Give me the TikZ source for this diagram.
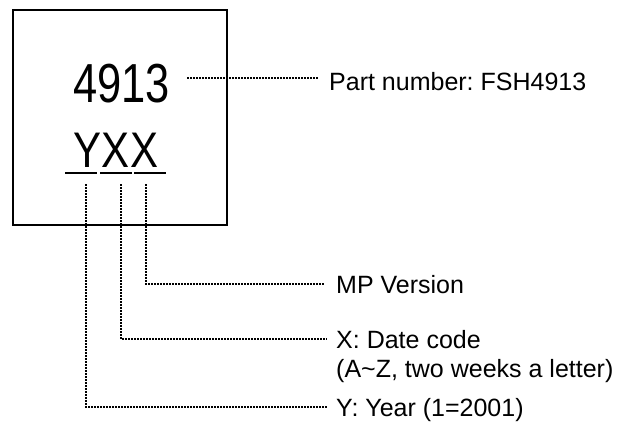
\documentclass[tikz,border=0pt]{standalone}
\usepackage{fontspec}
\setmainfont{Liberation Sans}
\newfontfamily\narrowfont[FakeStretch=0.79]{Liberation Sans}
\newfontfamily\narrowfontb[FakeStretch=0.84]{Liberation Sans}
\frenchspacing
\begin{document}
\begin{tikzpicture}[x=1pt,y=-1pt,
  chip/.style={draw, line width=1.5pt, minimum width=214pt, minimum height=215pt, inner sep=0pt},
  bigtxt/.style={font=\narrowfont\fontsize{55}{60}\selectfont, inner sep=0pt},
  bigtxtb/.style={font=\narrowfontb\fontsize{50}{60}\selectfont, inner sep=0pt},
  lbl/.style={font=\fontsize{25}{29}\selectfont\frenchspacing, inner sep=0pt, align=left},
  dotline/.style={line width=1.9pt, dash pattern=on 2pt off 1pt},
  uline/.style={line width=1.3pt}]
\useasboundingbox (0,0) rectangle (635,426);
\node[chip] (box) at (120,117.5) {};
\node[bigtxt, anchor=base] (num) at (121.5,102) {4913};
\node[bigtxtb, anchor=base] (yxx) at (116,167) {YXX};
\draw[uline] (65,173) -- (97,173);
\draw[uline] (100,173) -- (132,173);
\draw[uline] (134,173) -- (166,173);
% labels
\node[lbl, anchor=base west] (pn) at (329,90.5) {Part number: FSH4913};
\node[lbl, anchor=base west] (mp) at (336,293) {MP Version};
\node[lbl, anchor=base west] (dc) at (336,377) {X: Date code\\(A\char`\~Z, two weeks a letter)};
\node[lbl, anchor=base west] (yr) at (336,416) {Y: Year (1=2001)};
% connector endpoints
\coordinate (n1) at (187,78);
\coordinate (n2) at (318,78);
\coordinate (v1) at (86,184);
\coordinate (v2) at (121,184);
\coordinate (v3) at (146,184);
\coordinate (e3) at (324,284);
\coordinate (e2) at (327,339);
\coordinate (e1) at (327,407);
\draw[dotline] (n1) -- (n2);
\draw[dotline] (v3) |- (e3);
\draw[dotline] (v2) |- (e2);
\draw[dotline] (v1) |- (e1);
\end{tikzpicture}
\end{document}
